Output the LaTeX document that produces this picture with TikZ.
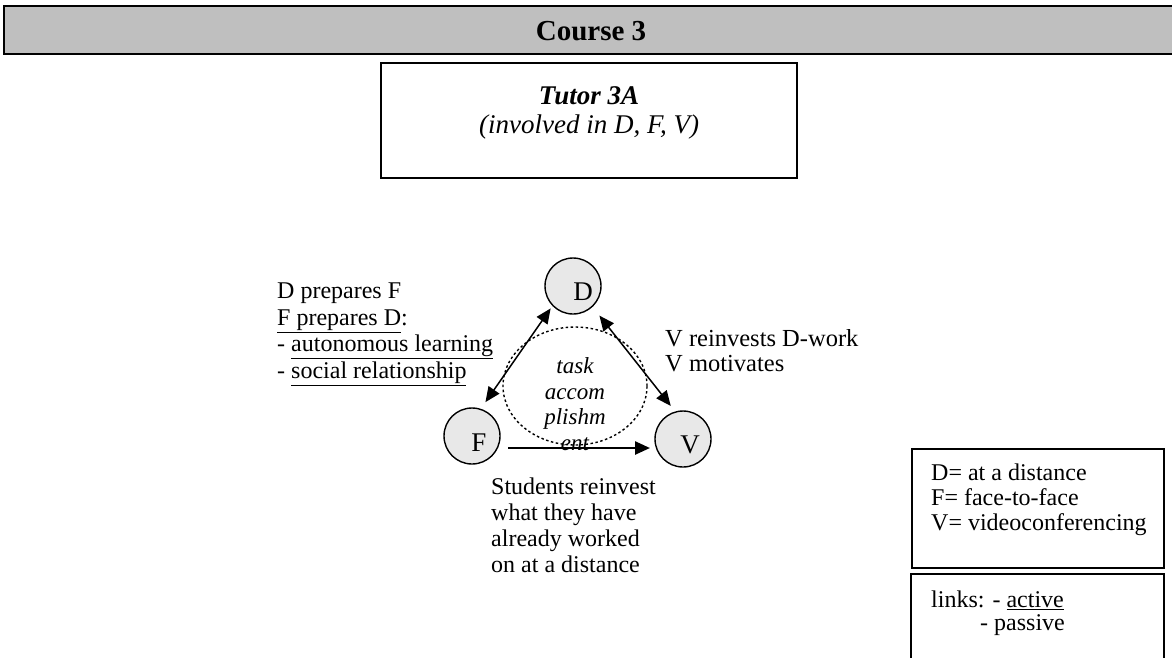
\documentclass[tikz,border=0pt]{standalone}
\usepackage{fontspec}
\setmainfont{Liberation Serif}
\usetikzlibrary{arrows.meta, shapes.geometric}

\newcommand{\bodysize}{\fontsize{24}{26.5}\selectfont}

\tikzset{
  station/.style={circle, draw, line width=1.4pt, fill=gray!18, minimum size=56pt, inner sep=0pt},
  letter/.style={font=\fontsize{27}{29}\selectfont},
  note/.style={align=left, anchor=north west, inner sep=0pt, font=\bodysize},
  link/.style={<->, line width=1.5pt}
}

\begin{document}
\begin{tikzpicture}[x=1pt, y=-1pt, >={Triangle[length=15pt, width=13pt]}]
  \useasboundingbox (0,0) rectangle (1172,657);

  % Course banner
  \draw[line width=2pt, fill=gray!50] (4,6) rectangle (1180,54);
  \node[font=\bfseries\fontsize{29}{31}\selectfont] (course) at (591,31) {Course 3};

  % Tutor
  \draw[line width=1.8pt] (381,63) rectangle (797,178);
  \node[align=center, anchor=north, font=\fontsize{27}{29}\selectfont] (tutor) at (589,83)
    {\textbf{\textit{Tutor 3A}}\\\textit{(involved in D, F, V)}};

  % Task accomplishment loop
  \node[ellipse, draw, dash pattern=on 2.5pt off 2.5pt, line width=1.4pt,
        minimum width=144pt, minimum height=118pt] (loop) at (575,386) {};
  \node[align=center, font=\itshape\fontsize{23}{25.5}\selectfont] (task) at (575,404)
    {task\\accom\\plishm\\ent};

  % Modes D, F, V
  \node[station] (D) at (573,286) {};
  \node[station] (F) at (472,436) {};
  \node[station] (V) at (683,439) {};
  \node[letter] (Dl) at ([shift={(10,6)}]D.center) {D};
  \node[letter] (Fl) at ([shift={(7,7)}]F.center) {F};
  \node[letter] (Vl) at ([shift={(7,6)}]V.center) {V};

  % Links
  \draw[link, shorten <=3pt, shorten >=8pt] (D.224) -- (F.72);
  \draw[link, shorten <=11pt, shorten >=7pt] (D.313) -- (V.106);
  \draw[->, line width=2.5pt] ([shift={(36,12)}]F.center) -- ([shift={(-33,9)}]V.center);

  % Notes
  \node[note] (prep) at (277,283)
    {D prepares F\\\underline{F prepares D}:\\- \underline{autonomous learning}\\- \underline{social relationship}};
  \node[note, font=\fontsize{24.5}{25}\selectfont] (motiv) at (665,329) {V reinvests D-work\\V motivates};
  \node[note, font=\fontsize{24}{26}\selectfont] (reinv) at (491,478)
    {Students reinvest\\what they have\\already worked\\on at a distance};

  % Legend
  \draw[line width=1.8pt] (912,449) rectangle (1164,568);
  \node[note, font=\fontsize{24}{25}\selectfont] (abbr) at (931,464)
    {D= at a distance\\F= face-to-face\\V= videoconferencing};
  \draw[line width=1.8pt] (911,574) rectangle (1164,670);
  \node[note, font=\fontsize{24}{23}\selectfont] (kinds) at (931,591)
    {links: - \underline{active}\\\hspace*{49pt}- passive};
\end{tikzpicture}
\end{document}
